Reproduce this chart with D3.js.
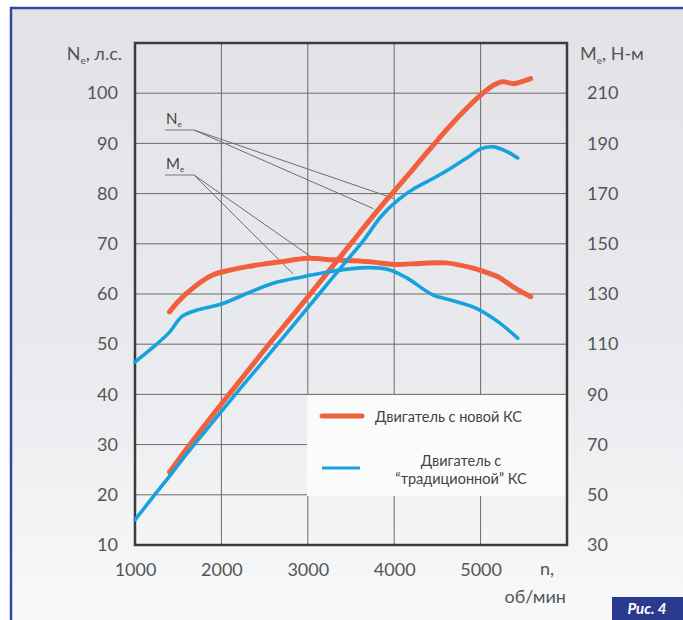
<!DOCTYPE html>
<html>
<head>
<meta charset="utf-8">
<script src="https://cdn.jsdelivr.net/npm/d3@7/dist/d3.min.js"></script>
<style>
  body { margin: 0; background: #fff; }
  svg { display: block; }
</style>
</head>
<body>
<script>
'use strict';

const width = 683;
const height = 620;
const margin = { top: 43, right: 117, bottom: 75, left: 135 };

// tick values
const rpmTicks = [1000, 2000, 3000, 4000, 5000];
const powerTicks = [10, 20, 30, 40, 50, 60, 70, 80, 90, 100];
const torqueTicks = [30, 50, 70, 90, 110, 130, 150, 170, 190, 210];

// Ne, hp — engine with new combustion chamber
const newPowerRpm = [1400, 1600, 1800, 2000, 2200, 2500, 2800, 3000, 3300, 3600, 3850, 4000, 4200, 4400, 4600, 4800, 5000, 5150, 5250, 5380, 5480, 5580];
const newPower =    [24.5, 29.2, 33.7, 38.1, 42.4, 48.9, 55.2, 59.4, 65.8, 72.2, 77.5, 80.5, 84.5, 88.6, 92.6, 96.3, 99.6, 101.6, 102.3, 101.9, 102.3, 102.9];

// Ne, hp — engine with "traditional" combustion chamber
const oldPowerRpm = [1000, 1200, 1400, 1600, 1800, 2000, 2200, 2400, 2650, 2900, 3150, 3400, 3650, 3850, 4050, 4250, 4450, 4650, 4850, 5000, 5150, 5300, 5430];
const oldPower =    [15.0, 19.4, 23.7, 28.2, 32.4, 36.6, 40.8, 44.9, 50.0, 55.2, 60.4, 65.6, 70.8, 75.5, 78.8, 81.2, 83.0, 85.0, 87.2, 88.9, 89.3, 88.4, 87.1];

// Me, N·m — new combustion chamber
const newTorqueRpm = [1400, 1500, 1600, 1750, 1900, 2100, 2300, 2500, 2700, 3000, 3300, 3700, 4000, 4300, 4600, 4900, 5100, 5200, 5400, 5580];
const newTorque =    [122.9, 127.0, 130.3, 134.5, 137.6, 139.5, 140.9, 142.0, 142.9, 144.2, 143.6, 142.9, 141.8, 142.2, 142.4, 140.4, 138.2, 136.9, 132.3, 128.9];

// Me, N·m — traditional combustion chamber
const oldTorqueRpm = [1000, 1200, 1400, 1540, 1700, 2000, 2300, 2600, 2950, 3250, 3700, 3950, 4150, 4450, 4650, 4950, 5200, 5430];
const oldTorque =    [102.9, 108.5, 114.8, 121.0, 123.4, 126.0, 130.3, 134.3, 136.9, 138.9, 140.5, 139.6, 136.3, 129.6, 127.6, 124.3, 119.0, 112.4];

// pointer targets of the Ne / Me callouts [rpm, value]
const powerPointers = [[4000, 79], [3760, 77]];
const torquePointers = [[3030, 145], [2830, 138]];

const orange = '#f0603e';
const blue = '#19a3dd';
const gridColor = '#6a6a6a';
const textColor = '#555';
const font = 'Lato, "Open Sans", sans-serif';

const svg = d3.select('body')
  .append('svg')
  .attr('width', width)
  .attr('height', height);

const defs = svg.append('defs');
const grad = defs.append('linearGradient')
  .attr('id', 'bg')
  .attr('x1', 0).attr('y1', 0).attr('x2', 0).attr('y2', 1);
grad.append('stop').attr('offset', '0%').attr('stop-color', '#e2e2e7');
grad.append('stop').attr('offset', '60%').attr('stop-color', '#eaebee');
grad.append('stop').attr('offset', '100%').attr('stop-color', '#f8f9fa');

const blur = defs.append('filter')
  .attr('id', 'soft')
  .attr('filterUnits', 'userSpaceOnUse')
  .attr('x', 0).attr('y', 0).attr('width', width).attr('height', height);
blur.append('feGaussianBlur').attr('stdDeviation', 0.6);

// panel background + blue frame
svg.append('rect')
  .attr('x', 10).attr('y', 7)
  .attr('width', width - 10).attr('height', height - 7)
  .attr('fill', 'url(#bg)');
svg.append('path')
  .attr('d', `M11,${height} V8 H${width}`)
  .attr('fill', 'none')
  .attr('stroke', '#2f4aa0')
  .attr('stroke-width', 2.5);

const x0 = margin.left;
const x1 = width - margin.right + 1;
const y0 = margin.top;
const y1 = height - margin.bottom;

const xScale = d3.scaleLinear().domain([1000, 6000]).range([x0, x1]);
const yLeft = d3.scaleLinear().domain([10, 110]).range([y1, y0]);
const yRight = d3.scaleLinear().domain([30, 230]).range([y1, y0]);

// grid
const grid = svg.append('g');
grid.selectAll('line.v')
  .data(rpmTicks.slice(1))
  .enter()
  .append('line')
  .attr('x1', (d) => xScale(d)).attr('x2', (d) => xScale(d))
  .attr('y1', y0).attr('y2', y1)
  .attr('stroke', gridColor).attr('stroke-width', 1);
grid.selectAll('line.h')
  .data(powerTicks.slice(1))
  .enter()
  .append('line')
  .attr('x1', x0).attr('x2', x1)
  .attr('y1', (d) => yLeft(d)).attr('y2', (d) => yLeft(d))
  .attr('stroke', gridColor).attr('stroke-width', 1);

// legend box (covers grid)
const legendX = 307;
const legendY = 395;
svg.append('rect')
  .attr('x', legendX).attr('y', legendY)
  .attr('width', x1 - legendX).attr('height', 101)
  .attr('fill', '#fbfbfc');

// plot frame
svg.append('rect')
  .attr('x', x0).attr('y', y0)
  .attr('width', x1 - x0).attr('height', y1 - y0)
  .attr('fill', 'none')
  .attr('stroke', '#3c3c3c')
  .attr('stroke-width', 2.5);

// axes (labels only, frame drawn above)
const xAxis = d3.axisBottom(xScale).tickValues(rpmTicks).tickFormat(d3.format('d')).tickSize(0).tickPadding(18);
const leftAxis = d3.axisLeft(yLeft).tickValues(powerTicks).tickSize(0).tickPadding(17);
const rightAxis = d3.axisRight(yRight).tickValues(torqueTicks).tickSize(0).tickPadding(20);

function styleAxis(g) {
  g.select('.domain').remove();
  g.selectAll('text')
    .attr('fill', textColor)
    .style('font-family', font)
    .style('font-size', '18px');
}

svg.append('g').attr('transform', `translate(0, ${y1})`).call(xAxis).call(styleAxis);
svg.append('g').attr('transform', `translate(${x0}, 0)`).call(leftAxis).call(styleAxis);
svg.append('g').attr('transform', `translate(${x1}, 0)`).call(rightAxis).call(styleAxis);

// axis titles
function subLabel(x, y, anchor, main, sub, rest) {
  const t = svg.append('text')
    .attr('x', x).attr('y', y)
    .attr('text-anchor', anchor)
    .attr('fill', textColor)
    .style('font-family', font)
    .style('font-size', '18px');
  t.append('tspan').text(main);
  t.append('tspan').text(sub).attr('font-size', '10px').attr('dy', 4);
  t.append('tspan').text(rest).attr('dy', -4);
  return t;
}
subLabel(122, 60, 'end', 'N', 'e', ', л.с.');
subLabel(580, 60, 'start', 'M', 'e', ', Н-м');

svg.append('text')
  .attr('x', 547).attr('y', 575)
  .attr('text-anchor', 'middle')
  .attr('fill', textColor)
  .style('font-family', font).style('font-size', '18px')
  .text('n,');
svg.append('text')
  .attr('x', 566).attr('y', 603)
  .attr('text-anchor', 'end')
  .attr('fill', textColor)
  .style('font-family', font).style('font-size', '18px')
  .text('об/мин');

// callouts Ne / Me
function callout(lx, ly, letter, targets, scale) {
  const g = svg.append('g');
  const t = g.append('text')
    .attr('x', lx).attr('y', ly)
    .attr('fill', '#444')
    .style('font-family', font).style('font-size', '15px');
  t.append('tspan').text(letter);
  t.append('tspan').text('e').attr('font-size', '8px').attr('dy', 3);
  const ux = lx + 28;
  const uy = ly + 6;
  g.append('line')
    .attr('x1', lx - 1).attr('x2', ux)
    .attr('y1', uy).attr('y2', uy)
    .attr('stroke', '#777').attr('stroke-width', 1);
  g.selectAll('line.ptr')
    .data(targets)
    .enter()
    .append('line')
    .attr('x1', ux).attr('y1', uy)
    .attr('x2', (d) => xScale(d[0]))
    .attr('y2', (d) => scale(d[1]))
    .attr('stroke', '#6d6d6d').attr('stroke-width', 1);
}
callout(166, 124, 'N', powerPointers, yLeft);
callout(166, 169, 'M', torquePointers, yRight);

// curves
const powerLine = d3.line()
  .x((d) => xScale(d[0]))
  .y((d) => yLeft(d[1]))
  .curve(d3.curveCatmullRom.alpha(0.5));
const torqueLine = d3.line()
  .x((d) => xScale(d[0]))
  .y((d) => yRight(d[1]))
  .curve(d3.curveCatmullRom.alpha(0.5));

const zip = (a, b) => a.map((v, i) => [v, b[i]]);

const curves = [
  { data: zip(newTorqueRpm, newTorque), line: torqueLine, color: orange, w: 5 },
  { data: zip(newPowerRpm, newPower), line: powerLine, color: orange, w: 5 },
  { data: zip(oldTorqueRpm, oldTorque), line: torqueLine, color: blue, w: 3.6 },
  { data: zip(oldPowerRpm, oldPower), line: powerLine, color: blue, w: 3.6 }
];

svg.selectAll('path.curve')
  .data(curves)
  .enter()
  .append('path')
  .attr('class', 'curve')
  .attr('d', (d) => d.line(d.data))
  .attr('fill', 'none')
  .attr('stroke', (d) => d.color)
  .attr('stroke-width', (d) => d.w)
  .attr('stroke-linecap', 'round')
  .attr('stroke-linejoin', 'round')
  .attr('filter', 'url(#soft)');

// legend
const legend = svg.append('g');
legend.append('line')
  .attr('x1', 322).attr('x2', 362).attr('y1', 416).attr('y2', 416)
  .attr('stroke', orange).attr('stroke-width', 5)
  .attr('stroke-linecap', 'round').attr('filter', 'url(#soft)');
legend.append('line')
  .attr('x1', 322).attr('x2', 360).attr('y1', 468).attr('y2', 468)
  .attr('stroke', blue).attr('stroke-width', 3);
legend.append('text')
  .attr('x', 375).attr('y', 422)
  .attr('fill', '#444')
  .style('font-family', font).style('font-size', '14.5px')
  .text('Двигатель с новой КС');
legend.append('text')
  .attr('x', 461).attr('y', 466)
  .attr('text-anchor', 'middle')
  .attr('fill', '#444')
  .style('font-family', font).style('font-size', '14.5px')
  .text('Двигатель с');
legend.append('text')
  .attr('x', 461).attr('y', 484)
  .attr('text-anchor', 'middle')
  .attr('fill', '#444')
  .style('font-family', font).style('font-size', '14.5px')
  .text('“традиционной” КС');

// figure tag
svg.append('rect')
  .attr('x', 612).attr('y', 597)
  .attr('width', width - 612).attr('height', height - 597)
  .attr('fill', '#2a3a8c');
svg.append('text')
  .attr('x', 647).attr('y', 614)
  .attr('text-anchor', 'middle')
  .attr('fill', '#fff')
  .style('font-family', font)
  .style('font-size', '15px')
  .style('font-style', 'italic')
  .style('font-weight', 'bold')
  .text('Рис. 4');
</script>
</body>
</html>
